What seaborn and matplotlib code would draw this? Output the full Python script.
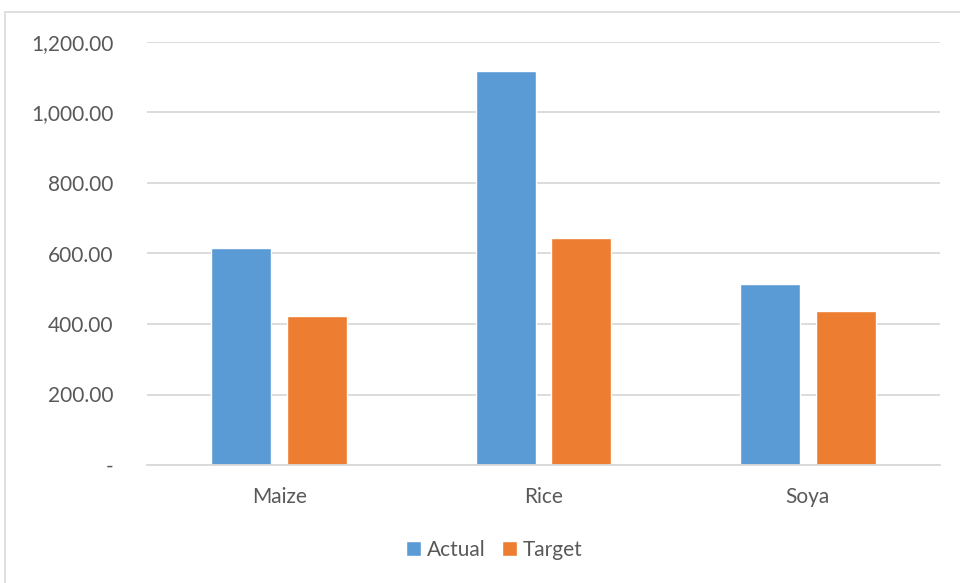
import matplotlib
matplotlib.use("Agg")
import matplotlib.pyplot as plt
import matplotlib.ticker as mticker
from matplotlib.patches import Rectangle
import pandas as pd
import seaborn as sns

# data
crops = ["Maize", "Rice", "Soya"]
actual = [615, 1119, 513]
target = [422, 643, 437]

series_names = ["Actual", "Target"]
colors = ["#5B9BD5", "#ED7D31"]

df = pd.DataFrame({
    "crop": crops * 2,
    "series": [series_names[0]] * len(crops) + [series_names[1]] * len(crops),
    "value": actual + target,
})

sns.set_theme(style="white")
plt.rcParams["font.family"] = ["Lato", "DejaVu Sans"]

fig = plt.figure(figsize=(9.6, 5.83), dpi=100)
ax = fig.add_axes([147 / 960, 1 - 465 / 583, (940 - 147) / 960, (465 - 42) / 583])

# outer chart frame (top edge of the Excel chart area)
fig.patches.append(Rectangle((5 / 960, -0.01), 1.0, 1 - 12 / 583 + 0.01,
                             transform=fig.transFigure, fill=False,
                             edgecolor="#D9D9D9", linewidth=1.2))

sns.barplot(data=df, x="crop", y="value", hue="series", palette=colors,
            width=0.574, gap=0.21, saturation=1, ax=ax, legend=True)

ax.set_ylim(0, 1200)
ax.set_yticks(range(0, 1201, 200))
ax.yaxis.set_major_formatter(mticker.FuncFormatter(
    lambda v, p: "-" if v == 0 else f"{v:,.2f}"))
ax.grid(axis="y", color="#D9D9D9", linewidth=1.3)
ax.set_axisbelow(True)
for side in ["left", "right", "top"]:
    ax.spines[side].set_visible(False)
ax.spines["bottom"].set_color("#D9D9D9")
ax.spines["bottom"].set_linewidth(1.3)

ax.tick_params(axis="y", length=0, pad=24, labelsize=15, labelcolor="#595959")
ax.tick_params(axis="x", length=0, pad=16, labelsize=15, labelcolor="#595959")
ax.set_xlabel("")
ax.set_ylabel("")

handles, labels = ax.get_legend_handles_labels()
ax.legend(handles, labels, loc="center", bbox_to_anchor=(0.438, -0.2),
          ncol=2, frameon=False, fontsize=15, labelcolor="#595959",
          handlelength=0.7, handleheight=0.7, handletextpad=0.3,
          columnspacing=0.8)

fig.savefig("out.png", dpi=100)
